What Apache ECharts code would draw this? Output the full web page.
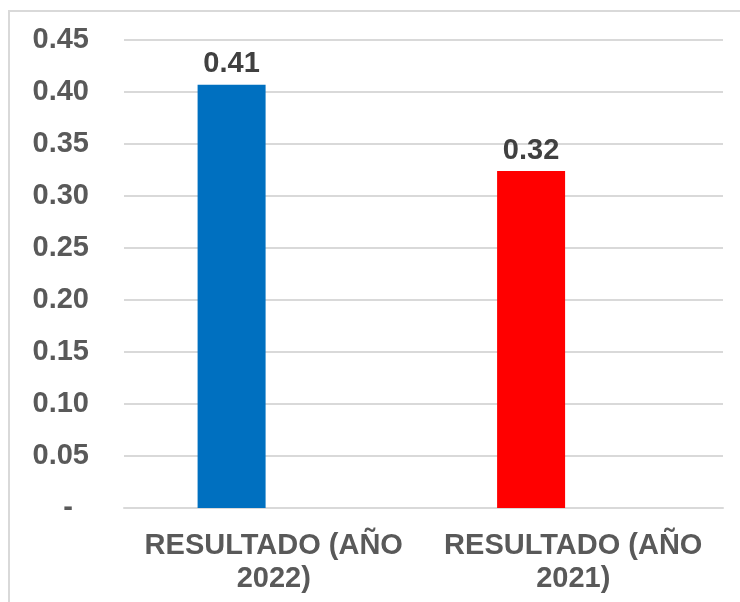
<!DOCTYPE html>
<html>
<head>
<meta charset="utf-8">
<script src="https://cdn.jsdelivr.net/npm/echarts@6/dist/echarts.min.js"></script>
<style>
  html, body { margin: 0; padding: 0; background: #fff; }
  #chart { width: 740px; height: 602px; }
</style>
</head>
<body>
<div id="chart"></div>
<script>
const categories = ['RESULTADO (AÑO\n2022)', 'RESULTADO (AÑO\n2021)']
const values = [0.407, 0.324]
const labels = ['0.41', '0.32']
const barColors = ['#0070C0', '#FF0000']

const chart = echarts.init(document.getElementById('chart'))

const font = 'Liberation Sans, Arial'

const option = {
  backgroundColor: '#fff',
  animation: false,
  graphic: [{
    type: 'rect',
    shape: { x: 9, y: 11, width: 760, height: 620 },
    style: { fill: 'none', stroke: '#d9d9d9', lineWidth: 2 }
  }],
  grid: { left: 124, right: 17, top: 40, bottom: 94 },
  xAxis: {
    type: 'category',
    data: categories,
    axisLine: { lineStyle: { color: '#d9d9d9', width: 2 } },
    axisTick: { show: false },
    axisLabel: {
      interval: 0,
      hideOverlap: false,
      color: '#595959',
      fontFamily: font,
      fontWeight: 'bold',
      fontSize: 29,
      lineHeight: 33,
      margin: 21
    }
  },
  yAxis: {
    type: 'value',
    min: 0,
    max: 0.45,
    interval: 0.05,
    axisLine: { show: false },
    axisTick: { show: false },
    splitLine: { lineStyle: { color: '#d9d9d9', width: 2 } },
    axisLabel: {
      color: '#595959',
      fontFamily: font,
      fontWeight: 'bold',
      fontSize: 29,
      margin: 35,
      formatter: v => v === 0 ? '{d|-}' : v.toFixed(2),
      rich: {
        d: {
          color: '#595959',
          fontFamily: font,
          fontWeight: 'bold',
          fontSize: 29,
          padding: [0, 16, 0, 0]
        }
      }
    }
  },
  series: [
    {
      type: 'bar',
      barWidth: 68,
      barGap: '24%',
      data: values.map((v, i) => ({ value: v, itemStyle: { color: barColors[i] } })),
      label: {
        show: true,
        position: 'top',
        distance: 6,
        color: '#404040',
        fontFamily: font,
        fontWeight: 'bold',
        fontSize: 29,
        formatter: p => labels[p.dataIndex]
      }
    },
    {
      type: 'bar',
      barWidth: 68,
      data: ['-', '-']
    }
  ]
}

chart.setOption(option)
</script>
</body>
</html>
